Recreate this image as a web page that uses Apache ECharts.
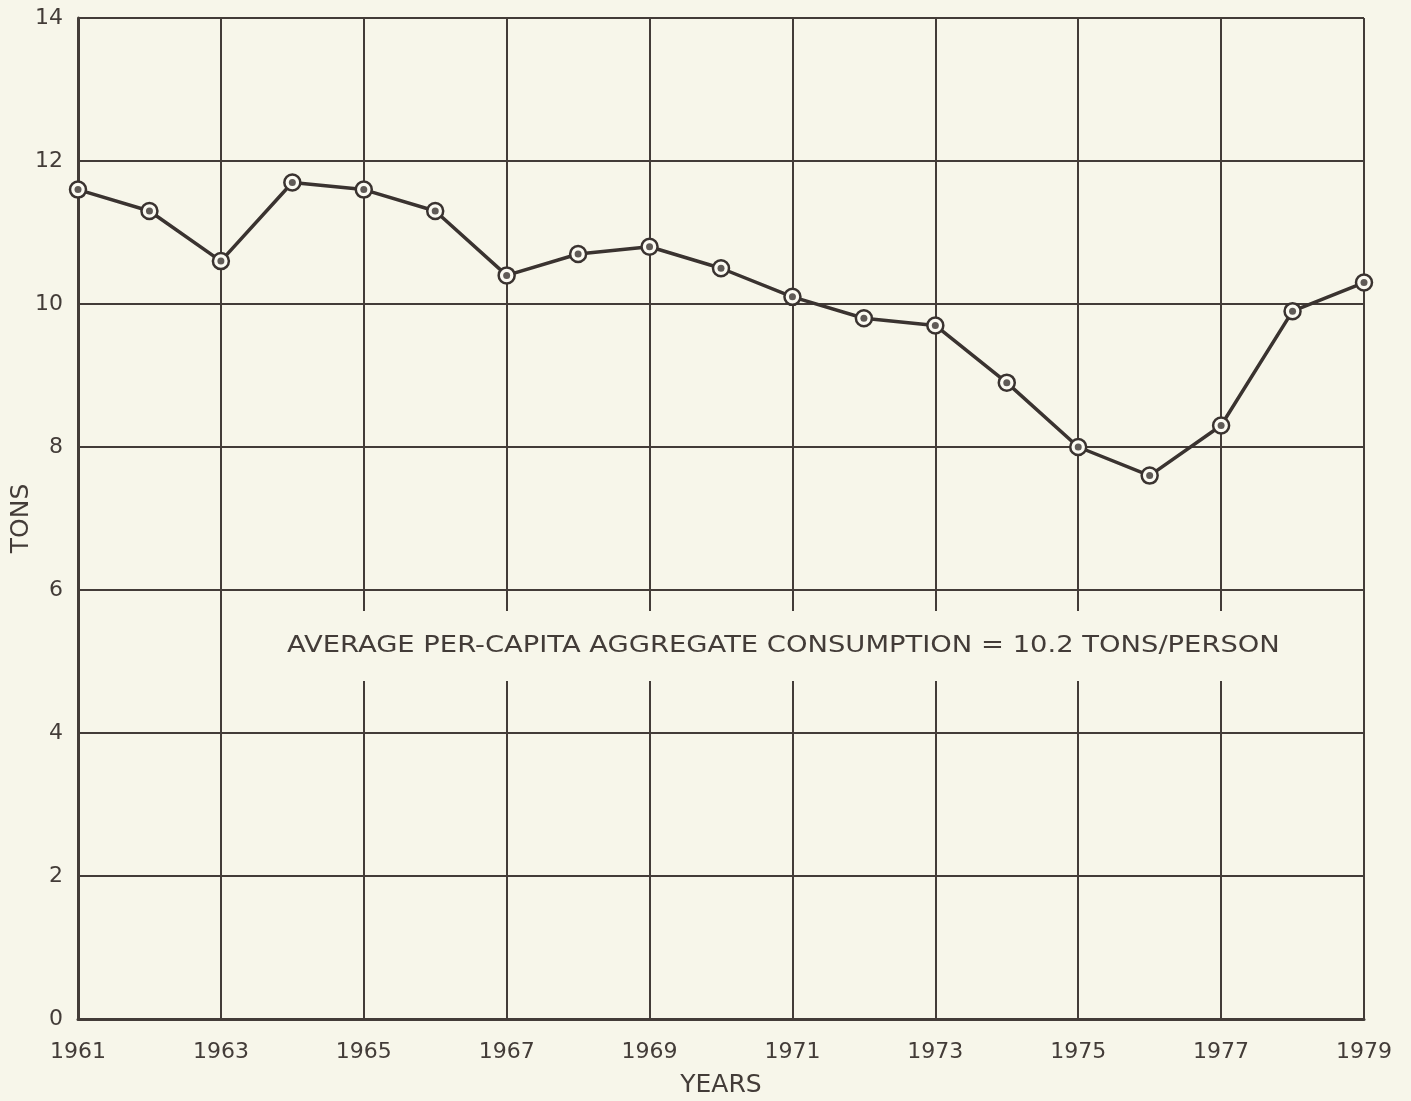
<!DOCTYPE html>
<html><head><meta charset="utf-8">
<script src="https://cdn.jsdelivr.net/npm/echarts@6/dist/echarts.min.js"></script>
<style>html,body{margin:0;padding:0;background:#f7f6ea;}#c{width:1411px;height:1101px;}</style>
</head><body><div id="c"></div>
<script>
const years = ['1961','1962','1963','1964','1965','1966','1967','1968','1969','1970','1971','1972','1973','1974','1975','1976','1977','1978','1979'];
const tons = [11.6,11.3,10.6,11.7,11.6,11.3,10.4,10.7,10.8,10.5,10.1,9.8,9.7,8.9,8.0,7.6,8.3,9.9,10.3];
const note = 'AVERAGE PER-CAPITA AGGREGATE CONSUMPTION = 10.2 TONS/PERSON';
const ink = '#433c38';
const bg = '#f7f6ea';
const font = 'DejaVu Sans';
const chart = echarts.init(document.getElementById('c'));
chart.setOption({
  backgroundColor: bg,
  animation: false,
  grid: {left: 78, right: 47, top: 18, bottom: 82, containLabel: false, outerBoundsMode: 'none'},
  xAxis: {
    type: 'category', data: years, boundaryGap: false,
    name: 'YEARS', nameLocation: 'middle', nameGap: 54, nameMoveOverlap: false,
    nameTextStyle: {color: ink, fontFamily: font, fontSize: 25},
    axisLine: {lineStyle: {color: ink, width: 3}},
    axisTick: {show: false},
    axisLabel: {interval: 1, color: ink, fontFamily: font, fontSize: 22, margin: 22},
    splitLine: {show: true, interval: 1, lineStyle: {color: ink, width: 2}}
  },
  yAxis: {
    type: 'value', min: 0, max: 14, interval: 2,
    name: 'TONS', nameLocation: 'middle', nameGap: 44, nameMoveOverlap: false,
    nameTextStyle: {color: ink, fontFamily: font, fontSize: 25},
    axisLine: {show: true, lineStyle: {color: ink, width: 3}},
    axisTick: {show: false},
    axisLabel: {color: ink, fontFamily: font, fontSize: 22, margin: 15},
    splitLine: {lineStyle: {color: ink, width: 2}}
  },
  graphic: [
    {type: 'rect', left: 278, top: 611, shape: {width: 1012, height: 70}, style: {fill: bg}, z: 50},
    {type: 'text', x: 287, y: 635, scaleX: 1.19, z: 51,
     style: {text: note, fill: ink, font: '23px "' + font + '"'}}
  ],
  series: [
    {type: 'line', data: tons, z: 60, symbol: 'circle', symbolSize: 16,
     lineStyle: {color: '#3a3330', width: 3.5},
     itemStyle: {color: '#fbfaf2', borderColor: '#3a3330', borderWidth: 2.5}},
    {type: 'scatter', data: tons, z: 61, symbol: 'circle', symbolSize: 7,
     itemStyle: {color: '#3a3330'}}
  ]
});
</script></body></html>
